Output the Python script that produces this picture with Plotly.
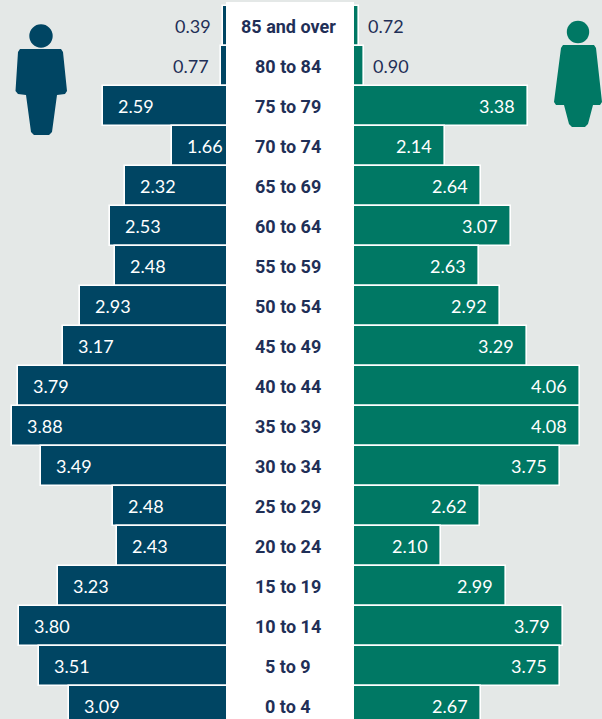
import plotly.graph_objects as go

age_groups = ["85 and over", "80 to 84", "75 to 79", "70 to 74", "65 to 69", "60 to 64",
              "55 to 59", "50 to 54", "45 to 49", "40 to 44", "35 to 39", "30 to 34",
              "25 to 29", "20 to 24", "15 to 19", "10 to 14", "5 to 9", "0 to 4"]
male_labels = ["0.39", "0.77", "2.59", "1.66", "2.32", "2.53", "2.48", "2.93", "3.17",
               "3.79", "3.88", "3.49", "2.48", "2.43", "3.23", "3.80", "3.51", "3.09"]
female_labels = ["0.72", "0.90", "3.38", "2.14", "2.64", "3.07", "2.63", "2.92", "3.29",
                 "4.06", "4.08", "3.75", "2.62", "2.10", "2.99", "3.79", "3.75", "2.67"]
# Bar lengths as drawn in the source, which differ slightly from the printed labels.
male_bars = [0.94, 0.97, 2.62, 1.65, 2.31, 2.52, 2.45, 2.94, 3.18,
             3.81, 3.89, 3.49, 2.48, 2.42, 3.25, 3.79, 3.52, 3.09]
female_bars = [0.97, 1.04, 3.33, 2.17, 2.67, 3.10, 2.65, 2.94, 3.32,
               4.06, 4.06, 3.78, 2.66, 2.11, 3.03, 3.82, 3.78, 2.68]

W, H = 602, 719
NAVY, GREEN, INK, BG = "#004563", "#007864", "#1F2F57", "#E4E8E7"
NUM_FONT = "Lato"
LABEL_FONT = "Roboto"


def px(x, y):
    return f"{x / W:.5f},{1 - y / H:.5f}"


def poly(points):
    return "M" + " L".join(px(x, y).replace(",", " ") for x, y in points) + " Z"


def icon(color, head, head_r, body):
    hx, hy = head
    return [
        dict(type="circle", xref="paper", yref="paper", layer="above", line_width=0,
             fillcolor=color, x0=(hx - head_r) / W, x1=(hx + head_r) / W,
             y0=1 - (hy + head_r) / H, y1=1 - (hy - head_r) / H),
        dict(type="path", xref="paper", yref="paper", layer="above", line_width=0,
             fillcolor=color, path=poly(body)),
    ]


shapes = [dict(type="rect", xref="paper", yref="paper", layer="above", line_width=0,
               fillcolor="white", x0=226 / W, x1=354 / W, y0=0, y1=1 - 2 / H)]
shapes += icon(NAVY, (41, 36), 11.7,
               [(20, 49), (61, 49), (63, 52), (67, 91), (65, 94), (57, 95), (52, 132), (49, 135),
                (34, 135), (31, 132), (26, 95), (18, 94), (15.5, 91), (18, 52)])
shapes += icon(GREEN, (578, 32), 11.2,
               [(563, 45), (594, 45), (596, 48), (602, 102), (600, 105), (593, 105), (588, 124),
                (585, 127), (572, 127), (569, 124), (564, 105), (556, 105), (554, 102), (561, 48)])

fig = go.Figure()
fig.add_bar(y=age_groups, x=[-v for v in male_bars], orientation="h", name="Male",
            marker=dict(color=NAVY, line=dict(color="white", width=1.6)))
fig.add_bar(y=age_groups, x=female_bars, orientation="h", name="Female",
            marker=dict(color=GREEN, line=dict(color="white", width=1.6)))

annotations = []
for age in age_groups:
    annotations.append(dict(x=0, y=age, xref="paper", yref="y", xshift=288, text=f"<b>{age}</b>",
                            showarrow=False, xanchor="center", yanchor="middle",
                            font=dict(family=LABEL_FONT, size=18, color=INK)))
for i, age in enumerate(age_groups):
    outside = i < 2
    annotations.append(dict(x=-male_bars[i], y=age, text=male_labels[i], showarrow=False,
                            xanchor="right" if outside else "left", yanchor="middle",
                            xshift=-10 if outside else 13,
                            font=dict(family=NUM_FONT, size=18, color=INK if outside else "white")))
    annotations.append(dict(x=female_bars[i], y=age, text=female_labels[i], showarrow=False,
                            xanchor="left" if outside else "right", yanchor="middle",
                            xshift=7 if outside else -11,
                            font=dict(family=NUM_FONT, size=18, color=INK if outside else "white")))

SCALE, ZERO = 71.4, 290
fig.update_layout(
    width=W, height=H, margin=dict(l=0, r=0, t=0, b=0), barmode="relative", bargap=0.0,
    paper_bgcolor=BG, plot_bgcolor=BG, showlegend=False, shapes=shapes, annotations=annotations,
    xaxis=dict(range=[-ZERO / SCALE, (W - ZERO) / SCALE], visible=False, fixedrange=True),
    yaxis=dict(range=[17.325, -0.65], visible=False, fixedrange=True, type="category",
               categoryorder="array", categoryarray=age_groups),
)
fig.write_html("out.html", config=dict(displayModeBar=False),
               post_script="document.body.style.margin='0';document.documentElement.style.overflow='hidden';")
